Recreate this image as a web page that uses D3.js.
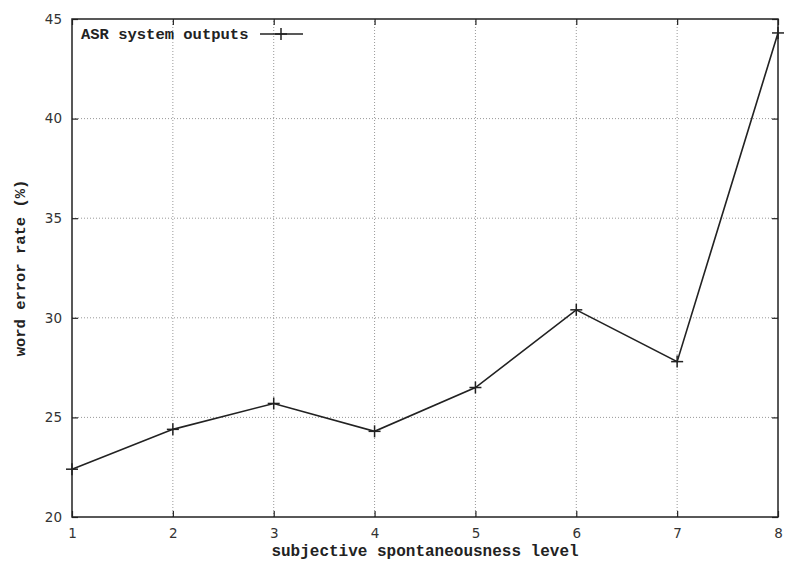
<!DOCTYPE html>
<html>
<head>
<meta charset="utf-8">
<script src="https://cdn.jsdelivr.net/npm/d3@7"></script>
<style>
  html, body { margin: 0; padding: 0; background: #fff; }
  svg { display: block; }
</style>
</head>
<body>
<svg id="chart" width="785" height="563"></svg>
<script>
// Spontaneousness levels and the measured word error rates (%)
const levels = [1, 2, 3, 4, 5, 6, 7, 8];
const werValues = [22.4, 24.4, 25.7, 24.3, 26.5, 30.4, 27.8, 44.3];
const yTicks = [20, 25, 30, 35, 40, 45];
const seriesName = "ASR system outputs";
const xTitle = "subjective spontaneousness level";
const yTitle = "word error rate (%)";

const W = 785, H = 563;
const margin = { left: 72, right: 7, top: 19, bottom: 46 };
const svg = d3.select("#chart");

const x = d3.scaleLinear().domain([1, 8]).range([margin.left, W - margin.right]);
const y = d3.scaleLinear().domain([20, 45]).range([H - margin.bottom, margin.top]);

const monoFont = "'Courier New', 'Liberation Mono', monospace";
const numFont = "'DejaVu Sans', 'Liberation Sans', Arial, sans-serif";
const ink = "#222";

// dotted grid at interior ticks
const grid = svg.append("g");
grid.selectAll("line.gx").data(levels.slice(1, -1)).join("line")
  .attr("x1", d => x(d)).attr("x2", d => x(d))
  .attr("y1", y(20)).attr("y2", y(45))
  .attr("stroke", "#999").attr("stroke-width", 1)
  .attr("stroke-dasharray", "1,2");
grid.selectAll("line.gy").data(yTicks.slice(1, -1)).join("line")
  .attr("x1", x(1)).attr("x2", x(8))
  .attr("y1", d => y(d)).attr("y2", d => y(d))
  .attr("stroke", "#999").attr("stroke-width", 1)
  .attr("stroke-dasharray", "1,2");

// axes with inward ticks on all four sides
const tickLen = 6;
const bottomAxis = d3.axisBottom(x).tickValues(levels).tickFormat(d3.format("d")).tickSizeInner(-tickLen).tickSizeOuter(0).tickPadding(11);
const topAxis = d3.axisTop(x).tickValues(levels).tickFormat("").tickSizeInner(-tickLen).tickSizeOuter(0);
const leftAxis = d3.axisLeft(y).tickValues(yTicks).tickFormat(d3.format("d")).tickSizeInner(-tickLen).tickSizeOuter(0).tickPadding(10);
const rightAxis = d3.axisRight(y).tickValues(yTicks).tickFormat("").tickSizeInner(-tickLen).tickSizeOuter(0);

function styleAxis(g) {
  g.select(".domain").remove();
  g.selectAll(".tick line").attr("stroke", ink).attr("stroke-width", 1.2);
  g.selectAll("text").attr("fill", "#333").style("font-family", numFont).style("font-size", "13.5px");
}
svg.append("g").attr("transform", `translate(0,${y(20)})`).call(bottomAxis).call(styleAxis);
svg.append("g").attr("transform", `translate(0,${y(45)})`).call(topAxis).call(styleAxis);
svg.append("g").attr("transform", `translate(${x(1)},0)`).call(leftAxis).call(styleAxis);
svg.append("g").attr("transform", `translate(${x(8)},0)`).call(rightAxis).call(styleAxis);

// plot frame
svg.append("rect")
  .attr("x", x(1)).attr("y", y(45))
  .attr("width", x(8) - x(1)).attr("height", y(20) - y(45))
  .attr("fill", "none").attr("stroke", ink).attr("stroke-width", 1.5);

// data line
const pts = levels.map((l, i) => [l, werValues[i]]);
svg.append("path")
  .datum(pts)
  .attr("fill", "none").attr("stroke", ink).attr("stroke-width", 1.6)
  .attr("d", d3.line().x(d => x(d[0])).y(d => y(d[1])));

// plus markers
const half = 6;
function plus(sel) {
  sel.append("line").attr("x1", -half).attr("x2", half).attr("y1", 0).attr("y2", 0);
  sel.append("line").attr("x1", 0).attr("x2", 0).attr("y1", -half).attr("y2", half);
}
svg.append("g").selectAll("g").data(pts).join("g")
  .attr("transform", d => `translate(${x(d[0])},${y(d[1])})`)
  .attr("stroke", ink).attr("stroke-width", 1.5)
  .each(function () { plus(d3.select(this)); });

// legend
const lg = svg.append("g");
lg.append("text")
  .attr("x", 81).attr("y", 39)
  .style("font-family", monoFont).style("font-size", "15.5px").style("font-weight", "bold")
  .attr("fill", ink).text(seriesName);
lg.append("line").attr("x1", 260).attr("x2", 303).attr("y1", 34).attr("y2", 34)
  .attr("stroke", ink).attr("stroke-width", 1.6);
lg.append("g").attr("transform", "translate(281,34)")
  .attr("stroke", ink).attr("stroke-width", 1.5)
  .call(plus);

// axis titles
svg.append("text")
  .attr("x", (x(1) + x(8)) / 2).attr("y", 556)
  .attr("text-anchor", "middle")
  .style("font-family", monoFont).style("font-size", "16px").style("font-weight", "bold")
  .attr("fill", ink).text(xTitle);
svg.append("text")
  .attr("transform", `translate(25,${(y(20) + y(45)) / 2}) rotate(-90)`)
  .attr("text-anchor", "middle")
  .style("font-family", monoFont).style("font-size", "15.5px").style("font-weight", "bold")
  .attr("fill", ink).text(yTitle);
</script>
</body>
</html>
